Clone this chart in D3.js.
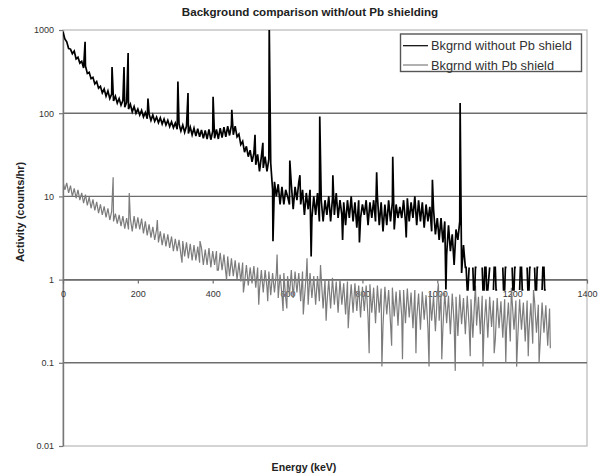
<!DOCTYPE html>
<html><head><meta charset="utf-8">
<script src="https://cdn.jsdelivr.net/npm/d3@7"></script>
<style>body{margin:0;background:#fff;} text{font-family:"Liberation Sans",Arial,sans-serif;}</style>
</head><body><svg id="c" width="603" height="476"></svg>
<script>
const chartTitle = "Background comparison with/out Pb shielding";
const xTitle = "Energy (keV)";
const yTitle = "Activity (counts/hr)";
const seriesNames = ["Bkgrnd without Pb shield", "Bkgrnd with Pb shield"];
const xTicks = [0, 200, 400, 600, 800, 1000, 1200, 1400];
const yTicks = [0.01, 0.1, 1, 10, 100, 1000];
const yTickLabels = ["0.01", "0.1", "1", "10", "100", "1000"];
const channelWidth = 5; // keV per channel

// Background without Pb shield, channels 0..1290 keV
const noShield = [
  950,780,720,600,590,520,560,450,470,400,420,350,370,300,310,260,270,225,240,200,210,
  175,195,160,185,150,170,140,160,132,150,125,142,118,135,112,128,104,120,100,112,
  95,108,90,102,86,98,82,95,80,90,77,88,74,85,72,82,69,79,67,76,
  64,74,61,72,59,70,57,68,55,66,53,65,52,63,50,62,49,64,48,61,
  50,64,49,66,51,68,52,70,54,72,55,70,52,56,42,46,34,40,30,36,
  26,33,24,32,20,30,22,30,20,28,25,12,15,10,14,8,13,8,12,10,
  8,14,7,13,9,15,8,12,6,11,7,12,5.5,10,6,11,5,9,5,9,
  6,10,5,9.5,6,11,5.5,9,6,8.5,4.5,9,5.5,10,5,8.5,4.2,9,5.5,8,
  6,9,4.5,8.5,5.5,9,5,10,4.5,8.5,3.8,8,4.5,9,5,8.5,4,8,5.5,7.5,
  5.5,9,5,9.5,5,8.5,5.5,10,4.5,9,5,8.5,4.2,8,5,7.5,3.8,7,3.5,5.5,
  3,5.5,2.8,5,2,4.5,2.2,3.5,1.5,4,3,5,1.2,2.6,
  1.4,0.75,1.4,null,1.4,0.75,1.4,null,null,1.4,0.75,1.4,0.75,1.4,null,0.75,1.4,0.75,null,null,
  1.4,0.75,1.4,null,null,1.4,0.75,1.4,null,0.75,1.4,0.75,null,1.4,0.75,1.4,null,1.4,0.75,1.4,null,0.75,1.4,0.75
];
const noShieldLineE = [59,131,163,174,227,307,334,401,451,513,534,551,561,606,633,663,686,721,747,792,838,881,917,987,1023,1061,
  1077,1082,1097,1102,1122,1127,1132,1152,1157,1177,1182,1202,1207,1222,1227,1242,1247,1262,1267,1282,1287];
const noShieldLineV = [720,360,360,530,150,240,175,158,110,55,44,1200,2.9,27,18,1.9,91,18,3,2.8,19.5,30,3.2,15.8,0.76,133,
  1.4,0.75,0.75,1.4,0.75,1.4,0.75,1.4,0.75,0.75,1.4,0.75,1.4,1.4,0.75,0.75,1.4,0.75,1.4,1.4,0.75];

// Background with Pb shield, channels 0..1300 keV
const withShield = [
  15,12,14.5,11,13.5,10,12.5,9.5,12,9,11,8.3,10.5,7.8,9.8,7.2,9.2,6.8,8.6,6.3,8,
  6,7.6,5.6,7.2,5.2,6.6,5,6.2,4.7,6,4.4,5.8,4.1,5.5,4,5.4,3.8,5.8,4.1,5.6,
  4,5.4,3.6,5,3.4,4.6,3.2,4.3,3,4,2.8,3.8,2.6,3.6,2.5,3.5,2.4,3.3,2.2,3.1,
  2.2,3,2,2.9,1.9,2.8,1.8,2.7,1.7,2.6,1.7,2.5,1.6,2.4,1.5,2.3,1.5,2.4,1.4,2.2,
  1.5,2.2,1.3,2.1,1.3,2,1.2,1.9,1.1,1.8,1.1,1.7,1,1.6,0.95,1.6,0.9,1.5,0.85,1.4,
  0.9,1.45,0.8,1.4,0.75,1.3,0.7,1.3,0.8,1.25,0.65,1.2,0.7,1.2,0.6,1.15,0.65,1.2,0.6,1.1,
  0.65,1.3,0.6,1.25,0.7,1.2,0.55,1.25,0.6,1.15,0.5,1.2,0.6,1.1,0.5,1.1,0.55,1.05,0.45,1.0,
  0.5,1.0,0.45,1.05,0.5,0.95,0.4,1.0,0.5,0.9,0.38,0.95,0.45,0.88,0.4,0.9,0.42,0.85,0.35,0.82,
  0.42,0.85,0.35,0.88,0.4,0.8,0.3,0.85,0.4,0.78,0.28,0.82,0.38,0.75,0.3,0.8,0.36,0.72,0.28,0.75,
  0.36,0.75,0.3,0.78,0.35,0.7,0.26,0.75,0.34,0.68,0.25,0.72,0.33,0.65,0.26,0.7,0.32,0.64,0.24,0.66,
  0.32,0.68,0.26,0.7,0.3,0.64,0.22,0.68,0.3,0.62,0.21,0.66,0.29,0.6,0.22,0.64,0.28,0.58,0.2,0.6,
  0.28,0.62,0.22,0.64,0.27,0.58,0.2,0.62,0.27,0.56,0.19,0.6,0.26,0.55,0.2,0.58,0.25,0.53,0.18,0.56,
  0.25,0.56,0.2,0.58,0.25,0.53,0.18,0.56,0.24,0.52,0.17,0.55,0.23,0.5,0.18,0.53,0.23,0.49,0.16,0.45
];
const withShieldLineE = [134,177,252,318,366,412,437,482,523,547,572,588,598,642,652,688,703,762,818,852,878,907,943,978,1003,1012,1048,1088,1102,1122,1152,1183,1198,1212,1243,1257,1272,1302];
const withShieldLineV = [17,11,5.2,1.6,2.9,1.3,1.0,0.7,0.5,0.55,2.0,0.42,0.45,0.38,1.8,1.5,0.32,0.26,0.13,0.09,0.16,0.11,0.13,0.09,0.9,0.11,0.08,0.12,0.85,0.09,0.13,0.1,0.8,0.09,0.12,0.75,0.1,0.15];

function buildSeries(vals, lineE, lineV) {
  const pts = vals.map((v, i) => ({ e: i * channelWidth, v }));
  lineE.forEach((e, i) => pts.push({ e, v: lineV[i] }));
  pts.sort((a, b) => a.e - b.e);
  return pts;
}
const series = [
  { name: seriesNames[0], color: "#000000", width: 1.7, pts: buildSeries(noShield, noShieldLineE, noShieldLineV) },
  { name: seriesNames[1], color: "#7c7c7c", width: 1.2, pts: buildSeries(withShield, withShieldLineE, withShieldLineV) }
];

const L = 63, R = 587, T = 30, B = 446;
const svg = d3.select("#c");
const x = d3.scaleLinear().domain([0, 1400]).range([L, R]);
const y = d3.scaleLog().domain([0.01, 1000]).range([B, T]);

svg.append("rect").attr("width", 603).attr("height", 476).attr("fill", "#fff");

svg.append("rect").attr("x", L).attr("y", T).attr("width", R - L).attr("height", B - T)
  .attr("fill", "#fff").attr("stroke", "#b8b8b8").attr("stroke-width", 1.2);

svg.append("g").selectAll("line").data(yTicks.filter(d => d > 0.01 && d < 1000)).join("line")
  .attr("x1", L).attr("x2", R).attr("y1", d => y(d)).attr("y2", d => y(d))
  .attr("stroke", "#6e6e6e").attr("stroke-width", 1.4);

const ya = svg.append("g").attr("transform", `translate(${L},0)`)
  .call(d3.axisLeft(y).tickValues(yTicks).tickFormat((d, i) => yTickLabels[i]).tickSize(4).tickSizeOuter(0).tickPadding(5));
ya.select(".domain").attr("stroke", "#777").attr("stroke-width", 1.4);
ya.selectAll(".tick line").attr("stroke", "#777").attr("stroke-width", 1.2);
ya.selectAll("text").attr("font-size", 9).attr("fill", "#333").attr("font-family", "Liberation Sans, Arial, sans-serif");

const xa = svg.append("g").attr("transform", `translate(0,${y(1)})`)
  .call(d3.axisBottom(x).tickValues(xTicks).tickFormat(d3.format("d")).tickSize(4).tickSizeOuter(0).tickPadding(7));
xa.select(".domain").attr("stroke", "#6e6e6e").attr("stroke-width", 1.4);
xa.selectAll(".tick line").attr("stroke", "#6e6e6e").attr("stroke-width", 1.2);
xa.selectAll("text").attr("font-size", 9).attr("fill", "#333").attr("font-family", "Liberation Sans, Arial, sans-serif");

svg.append("clipPath").attr("id", "pc").append("rect").attr("x", L).attr("y", T).attr("width", R - L).attr("height", B - T);
const line = d3.line().defined(d => d.v != null && d.v > 0).x(d => x(d.e)).y(d => y(d.v));
const dg = svg.append("g").attr("clip-path", "url(#pc)");
[series[1], series[0]].forEach(s => {
  dg.append("path").datum(s.pts).attr("d", line).attr("fill", "none")
    .attr("stroke", s.color).attr("stroke-width", s.width).attr("stroke-linejoin", "miter");
});

svg.append("text").attr("x", 310).attr("y", 16).attr("text-anchor", "middle")
  .attr("font-size", 11.6).attr("font-weight", "bold").attr("fill", "#222").text(chartTitle);
svg.append("text").attr("x", 304).attr("y", 471).attr("text-anchor", "middle")
  .attr("font-size", 10.6).attr("font-weight", "bold").attr("fill", "#222").text(xTitle);
svg.append("text").attr("transform", "translate(24,212) rotate(-90)").attr("text-anchor", "middle")
  .attr("font-size", 11).attr("font-weight", "bold").attr("fill", "#222").text(yTitle);

const lg = svg.append("g");
lg.append("rect").attr("x", 400.5).attr("y", 34).attr("width", 181).attr("height", 37.5)
  .attr("fill", "#fff").attr("stroke", "#555").attr("stroke-width", 1.4);
series.forEach((s, i) => {
  const cy = 45.7 + i * 19.3;
  lg.append("line").attr("x1", 403).attr("x2", 428).attr("y1", cy).attr("y2", cy)
    .attr("stroke", s.color).attr("stroke-width", 1.2);
  lg.append("text").attr("x", 431).attr("y", cy + 4.6).attr("font-size", 12.8).attr("fill", "#333").text(s.name);
});
</script></body></html>
